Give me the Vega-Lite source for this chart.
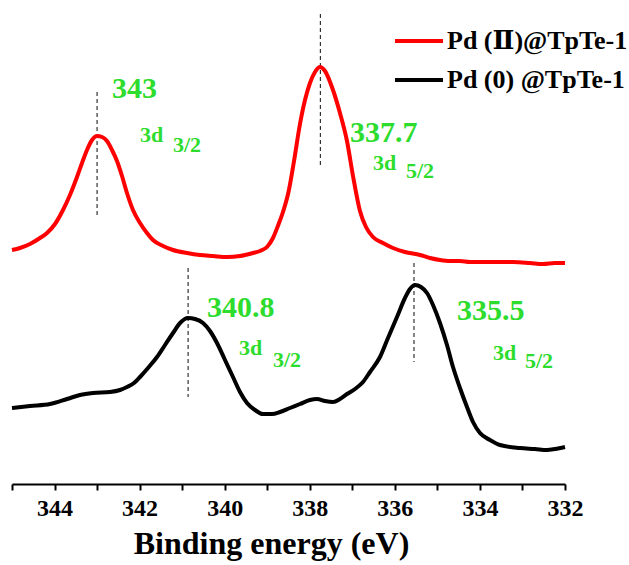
{
  "$schema": "https://vega.github.io/schema/vega-lite/v6.json",
  "width": 553,
  "height": 479,
  "autosize": {"type": "none"},
  "padding": {"left": 12, "top": 5, "right": 64, "bottom": 81},
  "background": "white",
  "config": {"view": {"stroke": null}},
  "data": {"values": [
      {"kind": "spectrum", "sample": "Pd (Ⅱ)@TpTe-1", "energy": 345.000, "intensity": 234},
      {"kind": "spectrum", "sample": "Pd (Ⅱ)@TpTe-1", "energy": 344.812, "intensity": 236},
      {"kind": "spectrum", "sample": "Pd (Ⅱ)@TpTe-1", "energy": 344.577, "intensity": 240},
      {"kind": "spectrum", "sample": "Pd (Ⅱ)@TpTe-1", "energy": 344.342, "intensity": 246},
      {"kind": "spectrum", "sample": "Pd (Ⅱ)@TpTe-1", "energy": 344.177, "intensity": 251},
      {"kind": "spectrum", "sample": "Pd (Ⅱ)@TpTe-1", "energy": 343.989, "intensity": 260},
      {"kind": "spectrum", "sample": "Pd (Ⅱ)@TpTe-1", "energy": 343.801, "intensity": 274},
      {"kind": "spectrum", "sample": "Pd (Ⅱ)@TpTe-1", "energy": 343.637, "intensity": 289},
      {"kind": "spectrum", "sample": "Pd (Ⅱ)@TpTe-1", "energy": 343.472, "intensity": 307},
      {"kind": "spectrum", "sample": "Pd (Ⅱ)@TpTe-1", "energy": 343.354, "intensity": 321},
      {"kind": "spectrum", "sample": "Pd (Ⅱ)@TpTe-1", "energy": 343.237, "intensity": 334},
      {"kind": "spectrum", "sample": "Pd (Ⅱ)@TpTe-1", "energy": 343.119, "intensity": 344},
      {"kind": "spectrum", "sample": "Pd (Ⅱ)@TpTe-1", "energy": 343.002, "intensity": 348},
      {"kind": "spectrum", "sample": "Pd (Ⅱ)@TpTe-1", "energy": 342.884, "intensity": 347},
      {"kind": "spectrum", "sample": "Pd (Ⅱ)@TpTe-1", "energy": 342.767, "intensity": 343},
      {"kind": "spectrum", "sample": "Pd (Ⅱ)@TpTe-1", "energy": 342.649, "intensity": 334},
      {"kind": "spectrum", "sample": "Pd (Ⅱ)@TpTe-1", "energy": 342.532, "intensity": 323},
      {"kind": "spectrum", "sample": "Pd (Ⅱ)@TpTe-1", "energy": 342.414, "intensity": 308},
      {"kind": "spectrum", "sample": "Pd (Ⅱ)@TpTe-1", "energy": 342.297, "intensity": 291},
      {"kind": "spectrum", "sample": "Pd (Ⅱ)@TpTe-1", "energy": 342.156, "intensity": 274},
      {"kind": "spectrum", "sample": "Pd (Ⅱ)@TpTe-1", "energy": 341.991, "intensity": 261},
      {"kind": "spectrum", "sample": "Pd (Ⅱ)@TpTe-1", "energy": 341.827, "intensity": 251},
      {"kind": "spectrum", "sample": "Pd (Ⅱ)@TpTe-1", "energy": 341.686, "intensity": 244},
      {"kind": "spectrum", "sample": "Pd (Ⅱ)@TpTe-1", "energy": 341.450, "intensity": 238},
      {"kind": "spectrum", "sample": "Pd (Ⅱ)@TpTe-1", "energy": 341.215, "intensity": 234},
      {"kind": "spectrum", "sample": "Pd (Ⅱ)@TpTe-1", "energy": 340.886, "intensity": 231},
      {"kind": "spectrum", "sample": "Pd (Ⅱ)@TpTe-1", "energy": 340.581, "intensity": 229},
      {"kind": "spectrum", "sample": "Pd (Ⅱ)@TpTe-1", "energy": 340.275, "intensity": 228},
      {"kind": "spectrum", "sample": "Pd (Ⅱ)@TpTe-1", "energy": 339.946, "intensity": 227},
      {"kind": "spectrum", "sample": "Pd (Ⅱ)@TpTe-1", "energy": 339.640, "intensity": 228},
      {"kind": "spectrum", "sample": "Pd (Ⅱ)@TpTe-1", "energy": 339.335, "intensity": 231},
      {"kind": "spectrum", "sample": "Pd (Ⅱ)@TpTe-1", "energy": 339.170, "intensity": 233},
      {"kind": "spectrum", "sample": "Pd (Ⅱ)@TpTe-1", "energy": 339.006, "intensity": 237},
      {"kind": "spectrum", "sample": "Pd (Ⅱ)@TpTe-1", "energy": 338.865, "intensity": 246},
      {"kind": "spectrum", "sample": "Pd (Ⅱ)@TpTe-1", "energy": 338.750, "intensity": 258},
      {"kind": "spectrum", "sample": "Pd (Ⅱ)@TpTe-1", "energy": 338.630, "intensity": 272},
      {"kind": "spectrum", "sample": "Pd (Ⅱ)@TpTe-1", "energy": 338.500, "intensity": 292},
      {"kind": "spectrum", "sample": "Pd (Ⅱ)@TpTe-1", "energy": 338.370, "intensity": 323},
      {"kind": "spectrum", "sample": "Pd (Ⅱ)@TpTe-1", "energy": 338.230, "intensity": 360},
      {"kind": "spectrum", "sample": "Pd (Ⅱ)@TpTe-1", "energy": 338.112, "intensity": 384},
      {"kind": "spectrum", "sample": "Pd (Ⅱ)@TpTe-1", "energy": 337.995, "intensity": 401},
      {"kind": "spectrum", "sample": "Pd (Ⅱ)@TpTe-1", "energy": 337.877, "intensity": 412},
      {"kind": "spectrum", "sample": "Pd (Ⅱ)@TpTe-1", "energy": 337.760, "intensity": 417},
      {"kind": "spectrum", "sample": "Pd (Ⅱ)@TpTe-1", "energy": 337.642, "intensity": 413},
      {"kind": "spectrum", "sample": "Pd (Ⅱ)@TpTe-1", "energy": 337.454, "intensity": 394},
      {"kind": "spectrum", "sample": "Pd (Ⅱ)@TpTe-1", "energy": 337.290, "intensity": 371},
      {"kind": "spectrum", "sample": "Pd (Ⅱ)@TpTe-1", "energy": 337.125, "intensity": 343},
      {"kind": "spectrum", "sample": "Pd (Ⅱ)@TpTe-1", "energy": 336.984, "intensity": 308},
      {"kind": "spectrum", "sample": "Pd (Ⅱ)@TpTe-1", "energy": 336.820, "intensity": 273},
      {"kind": "spectrum", "sample": "Pd (Ⅱ)@TpTe-1", "energy": 336.679, "intensity": 257},
      {"kind": "spectrum", "sample": "Pd (Ⅱ)@TpTe-1", "energy": 336.514, "intensity": 247},
      {"kind": "spectrum", "sample": "Pd (Ⅱ)@TpTe-1", "energy": 336.279, "intensity": 241},
      {"kind": "spectrum", "sample": "Pd (Ⅱ)@TpTe-1", "energy": 336.044, "intensity": 236},
      {"kind": "spectrum", "sample": "Pd (Ⅱ)@TpTe-1", "energy": 335.762, "intensity": 232},
      {"kind": "spectrum", "sample": "Pd (Ⅱ)@TpTe-1", "energy": 335.409, "intensity": 229},
      {"kind": "spectrum", "sample": "Pd (Ⅱ)@TpTe-1", "energy": 335.174, "intensity": 226},
      {"kind": "spectrum", "sample": "Pd (Ⅱ)@TpTe-1", "energy": 334.939, "intensity": 224},
      {"kind": "spectrum", "sample": "Pd (Ⅱ)@TpTe-1", "energy": 334.704, "intensity": 223},
      {"kind": "spectrum", "sample": "Pd (Ⅱ)@TpTe-1", "energy": 334.469, "intensity": 223},
      {"kind": "spectrum", "sample": "Pd (Ⅱ)@TpTe-1", "energy": 334.234, "intensity": 222},
      {"kind": "spectrum", "sample": "Pd (Ⅱ)@TpTe-1", "energy": 333.999, "intensity": 222},
      {"kind": "spectrum", "sample": "Pd (Ⅱ)@TpTe-1", "energy": 333.764, "intensity": 222},
      {"kind": "spectrum", "sample": "Pd (Ⅱ)@TpTe-1", "energy": 333.529, "intensity": 222},
      {"kind": "spectrum", "sample": "Pd (Ⅱ)@TpTe-1", "energy": 333.222, "intensity": 222},
      {"kind": "spectrum", "sample": "Pd (Ⅱ)@TpTe-1", "energy": 332.823, "intensity": 221},
      {"kind": "spectrum", "sample": "Pd (Ⅱ)@TpTe-1", "energy": 332.518, "intensity": 220},
      {"kind": "spectrum", "sample": "Pd (Ⅱ)@TpTe-1", "energy": 332.235, "intensity": 221},
      {"kind": "spectrum", "sample": "Pd (Ⅱ)@TpTe-1", "energy": 332.000, "intensity": 221},
      {"kind": "spectrum", "sample": "Pd  (0) @TpTe-1", "energy": 345.000, "intensity": 76},
      {"kind": "spectrum", "sample": "Pd  (0) @TpTe-1", "energy": 344.577, "intensity": 78},
      {"kind": "spectrum", "sample": "Pd  (0) @TpTe-1", "energy": 344.107, "intensity": 80},
      {"kind": "spectrum", "sample": "Pd  (0) @TpTe-1", "energy": 343.707, "intensity": 85},
      {"kind": "spectrum", "sample": "Pd  (0) @TpTe-1", "energy": 343.402, "intensity": 89},
      {"kind": "spectrum", "sample": "Pd  (0) @TpTe-1", "energy": 343.096, "intensity": 91},
      {"kind": "spectrum", "sample": "Pd  (0) @TpTe-1", "energy": 342.696, "intensity": 92},
      {"kind": "spectrum", "sample": "Pd  (0) @TpTe-1", "energy": 342.461, "intensity": 94},
      {"kind": "spectrum", "sample": "Pd  (0) @TpTe-1", "energy": 342.297, "intensity": 97},
      {"kind": "spectrum", "sample": "Pd  (0) @TpTe-1", "energy": 342.132, "intensity": 101},
      {"kind": "spectrum", "sample": "Pd  (0) @TpTe-1", "energy": 341.991, "intensity": 107},
      {"kind": "spectrum", "sample": "Pd  (0) @TpTe-1", "energy": 341.803, "intensity": 116},
      {"kind": "spectrum", "sample": "Pd  (0) @TpTe-1", "energy": 341.591, "intensity": 127},
      {"kind": "spectrum", "sample": "Pd  (0) @TpTe-1", "energy": 341.403, "intensity": 139},
      {"kind": "spectrum", "sample": "Pd  (0) @TpTe-1", "energy": 341.215, "intensity": 151},
      {"kind": "spectrum", "sample": "Pd  (0) @TpTe-1", "energy": 341.050, "intensity": 161},
      {"kind": "spectrum", "sample": "Pd  (0) @TpTe-1", "energy": 340.863, "intensity": 166},
      {"kind": "spectrum", "sample": "Pd  (0) @TpTe-1", "energy": 340.698, "intensity": 165},
      {"kind": "spectrum", "sample": "Pd  (0) @TpTe-1", "energy": 340.510, "intensity": 161},
      {"kind": "spectrum", "sample": "Pd  (0) @TpTe-1", "energy": 340.346, "intensity": 153},
      {"kind": "spectrum", "sample": "Pd  (0) @TpTe-1", "energy": 340.181, "intensity": 141},
      {"kind": "spectrum", "sample": "Pd  (0) @TpTe-1", "energy": 339.993, "intensity": 124},
      {"kind": "spectrum", "sample": "Pd  (0) @TpTe-1", "energy": 339.805, "intensity": 107},
      {"kind": "spectrum", "sample": "Pd  (0) @TpTe-1", "energy": 339.640, "intensity": 92},
      {"kind": "spectrum", "sample": "Pd  (0) @TpTe-1", "energy": 339.476, "intensity": 81},
      {"kind": "spectrum", "sample": "Pd  (0) @TpTe-1", "energy": 339.288, "intensity": 74},
      {"kind": "spectrum", "sample": "Pd  (0) @TpTe-1", "energy": 339.100, "intensity": 70},
      {"kind": "spectrum", "sample": "Pd  (0) @TpTe-1", "energy": 338.888, "intensity": 70},
      {"kind": "spectrum", "sample": "Pd  (0) @TpTe-1", "energy": 338.700, "intensity": 72},
      {"kind": "spectrum", "sample": "Pd  (0) @TpTe-1", "energy": 338.465, "intensity": 76},
      {"kind": "spectrum", "sample": "Pd  (0) @TpTe-1", "energy": 338.230, "intensity": 80},
      {"kind": "spectrum", "sample": "Pd  (0) @TpTe-1", "energy": 337.995, "intensity": 84},
      {"kind": "spectrum", "sample": "Pd  (0) @TpTe-1", "energy": 337.830, "intensity": 85},
      {"kind": "spectrum", "sample": "Pd  (0) @TpTe-1", "energy": 337.642, "intensity": 83},
      {"kind": "spectrum", "sample": "Pd  (0) @TpTe-1", "energy": 337.454, "intensity": 82},
      {"kind": "spectrum", "sample": "Pd  (0) @TpTe-1", "energy": 337.290, "intensity": 85},
      {"kind": "spectrum", "sample": "Pd  (0) @TpTe-1", "energy": 337.125, "intensity": 90},
      {"kind": "spectrum", "sample": "Pd  (0) @TpTe-1", "energy": 336.937, "intensity": 95},
      {"kind": "spectrum", "sample": "Pd  (0) @TpTe-1", "energy": 336.749, "intensity": 102},
      {"kind": "spectrum", "sample": "Pd  (0) @TpTe-1", "energy": 336.584, "intensity": 112},
      {"kind": "spectrum", "sample": "Pd  (0) @TpTe-1", "energy": 336.349, "intensity": 127},
      {"kind": "spectrum", "sample": "Pd  (0) @TpTe-1", "energy": 336.161, "intensity": 146},
      {"kind": "spectrum", "sample": "Pd  (0) @TpTe-1", "energy": 335.950, "intensity": 167},
      {"kind": "spectrum", "sample": "Pd  (0) @TpTe-1", "energy": 335.762, "intensity": 186},
      {"kind": "spectrum", "sample": "Pd  (0) @TpTe-1", "energy": 335.644, "intensity": 195},
      {"kind": "spectrum", "sample": "Pd  (0) @TpTe-1", "energy": 335.527, "intensity": 199},
      {"kind": "spectrum", "sample": "Pd  (0) @TpTe-1", "energy": 335.386, "intensity": 197},
      {"kind": "spectrum", "sample": "Pd  (0) @TpTe-1", "energy": 335.244, "intensity": 191},
      {"kind": "spectrum", "sample": "Pd  (0) @TpTe-1", "energy": 335.103, "intensity": 179},
      {"kind": "spectrum", "sample": "Pd  (0) @TpTe-1", "energy": 334.939, "intensity": 161},
      {"kind": "spectrum", "sample": "Pd  (0) @TpTe-1", "energy": 334.774, "intensity": 139},
      {"kind": "spectrum", "sample": "Pd  (0) @TpTe-1", "energy": 334.633, "intensity": 117},
      {"kind": "spectrum", "sample": "Pd  (0) @TpTe-1", "energy": 334.469, "intensity": 96},
      {"kind": "spectrum", "sample": "Pd  (0) @TpTe-1", "energy": 334.304, "intensity": 77},
      {"kind": "spectrum", "sample": "Pd  (0) @TpTe-1", "energy": 334.163, "intensity": 62},
      {"kind": "spectrum", "sample": "Pd  (0) @TpTe-1", "energy": 333.999, "intensity": 51},
      {"kind": "spectrum", "sample": "Pd  (0) @TpTe-1", "energy": 333.764, "intensity": 44},
      {"kind": "spectrum", "sample": "Pd  (0) @TpTe-1", "energy": 333.529, "intensity": 39},
      {"kind": "spectrum", "sample": "Pd  (0) @TpTe-1", "energy": 333.058, "intensity": 36},
      {"kind": "spectrum", "sample": "Pd  (0) @TpTe-1", "energy": 332.706, "intensity": 35},
      {"kind": "spectrum", "sample": "Pd  (0) @TpTe-1", "energy": 332.424, "intensity": 34},
      {"kind": "spectrum", "sample": "Pd  (0) @TpTe-1", "energy": 332.235, "intensity": 35},
      {"kind": "spectrum", "sample": "Pd  (0) @TpTe-1", "energy": 332.000, "intensity": 37},
      {"kind": "marker", "energy": 343.0, "intensity": 392, "bottom": 267},
      {"kind": "marker", "energy": 337.75, "intensity": 470, "bottom": 319},
      {"kind": "marker", "energy": 340.86, "intensity": 216, "bottom": 87},
      {"kind": "marker", "energy": 335.55, "intensity": 221, "bottom": 122},
      {"kind": "peak", "label": "343", "energy": 342.649, "intensity": 386},
      {"kind": "peak", "label": "337.7", "energy": 337.055, "intensity": 342},
      {"kind": "peak", "label": "340.8", "energy": 340.416, "intensity": 167},
      {"kind": "peak", "label": "335.5", "energy": 334.539, "intensity": 164},
      {"kind": "orbital", "label": "3d", "energy": 341.991, "intensity": 342},
      {"kind": "orbital", "label": "3/2", "energy": 341.215, "intensity": 332},
      {"kind": "orbital", "label": "3d", "energy": 336.514, "intensity": 314},
      {"kind": "orbital", "label": "5/2", "energy": 335.738, "intensity": 306},
      {"kind": "orbital", "label": "3d", "energy": 339.664, "intensity": 129},
      {"kind": "orbital", "label": "3/2", "energy": 338.865, "intensity": 117},
      {"kind": "orbital", "label": "3d", "energy": 333.693, "intensity": 124},
      {"kind": "orbital", "label": "5/2", "energy": 332.941, "intensity": 116}
  ]},
  "encoding": {
    "x": {
      "field": "energy",
      "type": "quantitative",
      "scale": {"domain": [332, 345], "reverse": true, "nice": false, "zero": false},
      "axis": {
        "values": [332, 333, 334, 335, 336, 337, 338, 339, 340, 341, 342, 343, 344, 345],
        "labelExpr": "datum.value % 2 === 0 ? datum.label : ''",
        "tickSize": 6,
        "grid": false,
        "domainColor": "#000000",
        "domainWidth": 2,
        "tickColor": "#000000",
        "tickWidth": 2,
        "labelFont": "Times New Roman, Liberation Serif, DejaVu Serif, serif",
        "labelFontWeight": "bold",
        "labelFontSize": 24,
        "labelColor": "#000000",
        "labelPadding": 6,
        "labelFlush": false,
        "labelOverlap": false,
        "title": "Binding energy (eV)",
        "titleFont": "Times New Roman, Liberation Serif, DejaVu Serif, serif",
        "titleFontSize": 32,
        "titleFontWeight": "bold",
        "titleColor": "#000000",
        "titlePadding": 8,
        "titleX": 259
      }
    },
    "y": {
      "field": "intensity",
      "type": "quantitative",
      "scale": {"domain": [0, 479], "nice": false, "zero": false},
      "axis": null
    }
  },
  "layer": [
    {
      "transform": [{"filter": "datum.kind === 'marker'"}],
      "mark": {"type": "rule", "strokeDash": [4, 3], "strokeWidth": 1.2, "color": "#333333"},
      "encoding": {
        "y2": {"field": "bottom"}
      }
    },
    {
      "transform": [{"filter": "datum.kind === 'spectrum'"}],
      "mark": {"type": "line", "strokeWidth": 4, "interpolate": "monotone"},
      "encoding": {
        "color": {
          "field": "sample",
          "type": "nominal",
          "scale": {"domain": ["Pd (Ⅱ)@TpTe-1", "Pd  (0) @TpTe-1"], "range": ["#ff0000", "#000000"]},
          "legend": {
            "orient": "none",
            "legendX": 381,
            "legendY": 10,
            "title": null,
            "symbolType": "stroke",
            "symbolSize": 2304,
            "symbolStrokeWidth": 4,
            "labelOffset": 2,
            "rowPadding": -24,
            "labelFont": "Times New Roman, Liberation Serif, DejaVu Serif, serif",
            "labelFontWeight": "bold",
            "labelFontSize": 26,
            "labelColor": "#000000",
            "labelLimit": 400
          }
        }
      }
    },
    {
      "transform": [{"filter": "datum.kind === 'peak'"}],
      "mark": {"type": "text", "align": "left", "baseline": "alphabetic", "font": "Times New Roman, Liberation Serif, DejaVu Serif, serif", "fontWeight": "bold", "fontSize": 30, "color": "#2ddc2d"},
      "encoding": {
        "text": {"field": "label", "type": "nominal"}
      }
    },
    {
      "transform": [{"filter": "datum.kind === 'orbital'"}],
      "mark": {"type": "text", "align": "left", "baseline": "alphabetic", "font": "Times New Roman, Liberation Serif, DejaVu Serif, serif", "fontWeight": "bold", "fontSize": 22, "color": "#2ddc2d"},
      "encoding": {
        "text": {"field": "label", "type": "nominal"}
      }
    }
  ]
}
